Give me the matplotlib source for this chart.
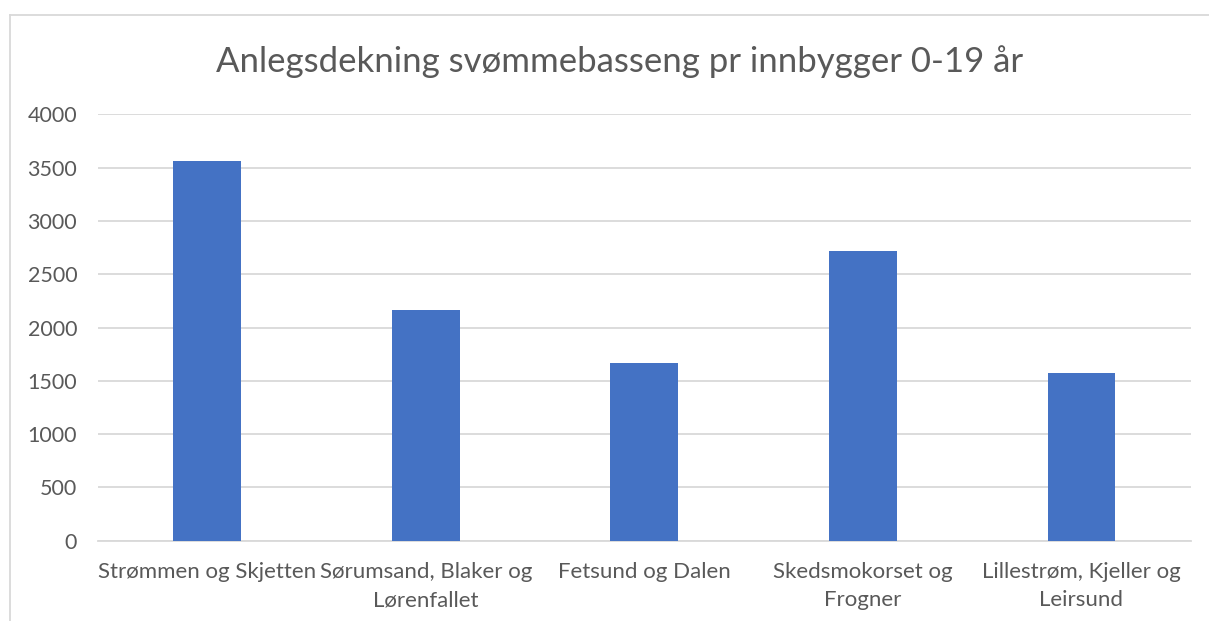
import matplotlib
matplotlib.use("Agg")
import matplotlib.pyplot as plt
from matplotlib.lines import Line2D

categories = ["Strømmen og Skjetten", "Sørumsand, Blaker og\nLørenfallet", "Fetsund og Dalen",
              "Skedsmokorset og\nFrogner", "Lillestrøm, Kjeller og\nLeirsund"]
values = [3560, 2160, 1670, 2720, 1570]
yticks = [0, 500, 1000, 1500, 2000, 2500, 3000, 3500, 4000]
title = "Anlegsdekning svømmebasseng pr innbygger 0-19 år"

plt.rcParams['font.family'] = ['Lato', 'DejaVu Sans']
W, H = 1209, 621
fig = plt.figure(figsize=(W / 100, H / 100), dpi=100)
ax = fig.add_axes([98 / W, 1 - 540.7 / H, (1190.7 - 98) / W, (540.7 - 114.3) / H])

x = list(range(len(categories)))
ax.bar(x, values, width=0.31, color="#4472C4", zorder=3)
ax.set_xlim(-0.5, len(categories) - 0.5)
ax.set_ylim(0, 4000)
ax.set_yticks(yticks)
ax.set_yticklabels([str(v) for v in yticks])
ax.set_xticks(x)
ax.set_xticklabels(categories, linespacing=1.55)
ax.yaxis.grid(True, color="#D9D9D9", linewidth=1.3, zorder=0)
for s in ["top", "right", "left"]:
    ax.spines[s].set_visible(False)
ax.spines["bottom"].set_color("#D9D9D9")
ax.spines["bottom"].set_linewidth(1.3)
ax.tick_params(axis="y", length=0, labelsize=15.5, colors="#595959", pad=15)
ax.tick_params(axis="x", length=0, labelsize=16, colors="#595959", pad=15)

fig.text(620 / W, 1 - 62 / H, title, ha="center", va="center", fontsize=25, color="#595959")

# chart frame (left and top edges)
fig.add_artist(Line2D([10 / W, 10 / W], [0, 1 - 15 / H], transform=fig.transFigure, color="#D9D9D9", linewidth=1.3))
fig.add_artist(Line2D([10 / W, 1], [1 - 15 / H, 1 - 15 / H], transform=fig.transFigure, color="#D9D9D9", linewidth=1.3))

fig.savefig("out.png", dpi=100, facecolor="white")
